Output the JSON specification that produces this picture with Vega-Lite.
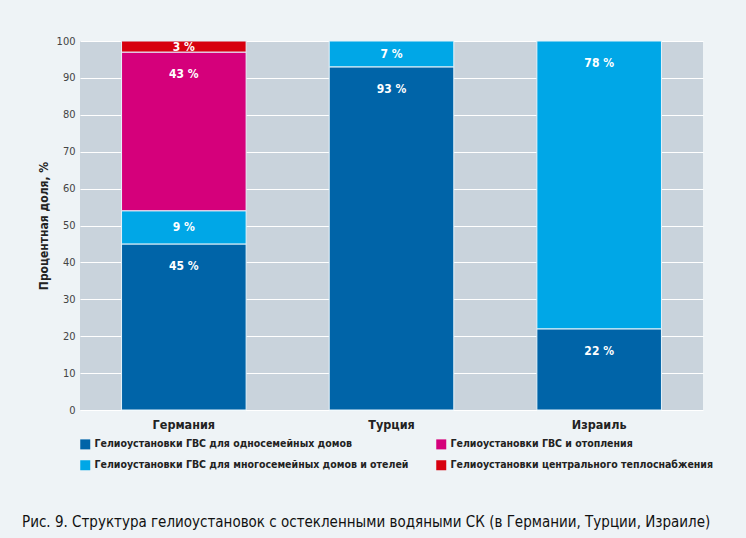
{
  "$schema": "https://vega.github.io/schema/vega-lite/v6.json",
  "autosize": "none",
  "width": 623,
  "height": 369,
  "padding": {"left": 80, "top": 41, "right": 43, "bottom": 128},
  "background": "#eef3f6",
  "title": {
    "text": "Рис. 9. Структура гелиоустановок с остекленными водяными СК (в Германии, Турции, Израиле)",
    "orient": "bottom",
    "anchor": "start",
    "frame": "group",
    "dx": -58,
    "offset": 44,
    "font": "DejaVu Sans Condensed",
    "fontSize": 15,
    "fontWeight": "normal",
    "color": "#111111"
  },
  "data": {
    "values": [
      {"country": "Германия", "type": "Гелиоустановки ГВС для односемейных домов", "v": 45, "lab": "45 %", "ord": 1},
      {"country": "Германия", "type": "Гелиоустановки ГВС для многосемейных домов и отелей", "v": 9, "lab": "9 %", "ord": 2},
      {"country": "Германия", "type": "Гелиоустановки ГВС и отопления", "v": 43, "lab": "43 %", "ord": 3},
      {"country": "Германия", "type": "Гелиоустановки центрального теплоснабжения", "v": 3, "lab": "3 %", "ord": 4},
      {"country": "Турция", "type": "Гелиоустановки ГВС для односемейных домов", "v": 93, "lab": "93 %", "ord": 1},
      {"country": "Турция", "type": "Гелиоустановки ГВС для многосемейных домов и отелей", "v": 7, "lab": "7 %", "ord": 2},
      {"country": "Израиль", "type": "Гелиоустановки ГВС для односемейных домов", "v": 22, "lab": "22 %", "ord": 1},
      {"country": "Израиль", "type": "Гелиоустановки ГВС для многосемейных домов и отелей", "v": 78, "lab": "78 %", "ord": 2}
    ]
  },
  "encoding": {
    "x": {
      "field": "country",
      "type": "nominal",
      "sort": ["Германия", "Турция", "Израиль"],
      "scale": {"paddingInner": 0.4, "paddingOuter": 0.2},
      "axis": {
        "title": null,
        "labelAngle": 0,
        "domain": false,
        "ticks": false,
        "labelPadding": 8,
        "labelFontSize": 12.5,
        "labelFontWeight": "bold",
        "labelColor": "#222222",
        "labelFont": "DejaVu Sans Condensed"
      }
    },
    "order": {"field": "ord", "type": "quantitative"}
  },
  "layer": [
    {
      "mark": {"type": "bar", "stroke": "#e6f3fa", "strokeWidth": 1},
      "encoding": {
        "y": {
          "field": "v",
          "type": "quantitative",
          "stack": "zero",
          "scale": {"domain": [0, 100], "nice": false},
          "axis": {
            "title": "Процентная доля, %",
            "titleFontSize": 12,
            "titleFontWeight": "bold",
            "titleColor": "#222222",
            "titleFont": "DejaVu Sans Condensed",
            "titlePadding": 6,
            "values": [0, 10, 20, 30, 40, 50, 60, 70, 80, 90, 100],
            "labelOverlap": false,
            "domain": false,
            "ticks": false,
            "labelPadding": 5,
            "labelFontSize": 11,
            "labelColor": "#444444",
            "labelFont": "DejaVu Sans Condensed",
            "grid": true,
            "gridColor": "#ffffff",
            "gridWidth": 1,
            "gridOpacity": 1
          }
        },
        "color": {
          "field": "type",
          "type": "nominal",
          "scale": {
            "domain": [
              "Гелиоустановки ГВС для односемейных домов",
              "Гелиоустановки ГВС для многосемейных домов и отелей",
              "Гелиоустановки ГВС и отопления",
              "Гелиоустановки центрального теплоснабжения"
            ],
            "range": ["#0064a8", "#00a7e7", "#d5007b", "#d7000f"]
          },
          "legend": {
            "title": null,
            "orient": "none",
            "legendX": 0,
            "legendY": 398,
            "columns": 2,
            "columnPadding": 27,
            "rowPadding": 10,
            "symbolType": "square",
            "symbolSize": 100,
            "symbolStrokeWidth": 0,
            "symbolOpacity": 1,
            "labelFontSize": 10.5,
            "labelFontWeight": "bold",
            "labelColor": "#222222",
            "labelLimit": 400,
            "labelFont": "DejaVu Sans Condensed"
          }
        }
      }
    },
    {
      "mark": {"type": "text", "color": "#ffffff", "fontWeight": "bold", "fontSize": 12, "dy": 22, "baseline": "middle",
        "font": "DejaVu Sans Condensed"},
      "encoding": {
        "y": {
          "field": "v",
          "type": "quantitative",
          "stack": "zero",
          "axis": {
            "title": "Процентная доля, %",
            "titleFontSize": 12,
            "titleFontWeight": "bold",
            "titleColor": "#222222",
            "titleFont": "DejaVu Sans Condensed",
            "titlePadding": 6,
            "values": [0, 10, 20, 30, 40, 50, 60, 70, 80, 90, 100],
            "labelOverlap": false,
            "domain": false,
            "ticks": false,
            "labelPadding": 5,
            "labelFontSize": 11,
            "labelColor": "#444444",
            "labelFont": "DejaVu Sans Condensed",
            "grid": true,
            "gridColor": "#ffffff",
            "gridWidth": 1,
            "gridOpacity": 1
          }
        },
        "text": {"condition": {"test": "datum.v >= 20", "field": "lab"}, "value": ""}
      }
    },
    {
      "mark": {"type": "text", "color": "#ffffff", "fontWeight": "bold", "fontSize": 12, "baseline": "middle",
        "font": "DejaVu Sans Condensed"},
      "encoding": {
        "y": {
          "field": "v",
          "type": "quantitative",
          "stack": "zero",
          "bandPosition": 0.5,
          "axis": {
            "title": "Процентная доля, %",
            "titleFontSize": 12,
            "titleFontWeight": "bold",
            "titleColor": "#222222",
            "titleFont": "DejaVu Sans Condensed",
            "titlePadding": 6,
            "values": [0, 10, 20, 30, 40, 50, 60, 70, 80, 90, 100],
            "labelOverlap": false,
            "domain": false,
            "ticks": false,
            "labelPadding": 5,
            "labelFontSize": 11,
            "labelColor": "#444444",
            "labelFont": "DejaVu Sans Condensed",
            "grid": true,
            "gridColor": "#ffffff",
            "gridWidth": 1,
            "gridOpacity": 1
          }
        },
        "text": {"condition": {"test": "datum.v < 20", "field": "lab"}, "value": ""}
      }
    }
  ],
  "config": {
    "view": {"fill": "#c9d3dc", "stroke": null}
  }
}
